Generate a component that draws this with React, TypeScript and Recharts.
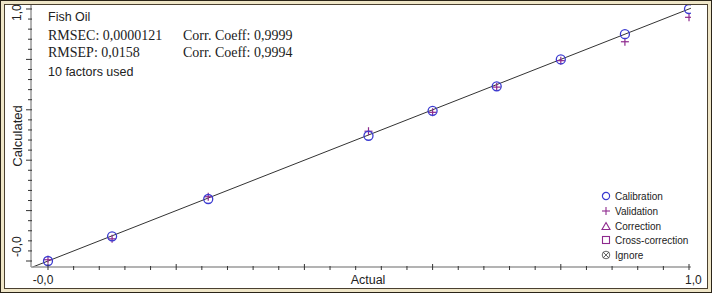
import React from 'react';
import { ScatterChart, Scatter, XAxis, YAxis, ReferenceLine } from 'recharts';

const actualCal = [0, 0.1, 0.25, 0.5, 0.6, 0.7, 0.8, 0.9, 1.0];
const calculatedCal = [0, 0.098, 0.246, 0.497, 0.596, 0.693, 0.8, 0.9, 1.0];
const actualVal = [0, 0.1, 0.25, 0.5, 0.6, 0.7, 0.8, 0.9, 1.0];
const calculatedVal = [0.005, 0.088, 0.255, 0.515, 0.59, 0.69, 0.795, 0.87, 0.967];

const axisTicks = [
  0, 0.04, 0.08, 0.12, 0.16, 0.2, 0.24, 0.28, 0.32, 0.36, 0.4, 0.44, 0.48,
  0.52, 0.56, 0.6, 0.64, 0.68, 0.72, 0.76, 0.8, 0.84, 0.88, 0.92, 0.96, 1.0,
];
const tickLabels: Record<string, string> = { '0': '-0,0', '1': '1,0' };

const infoLines = [
  { left: 'Fish Oil', right: '', serif: false },
  { left: 'RMSEC: 0,0000121', right: 'Corr. Coeff: 0,9999', serif: true },
  { left: 'RMSEP: 0,0158', right: 'Corr. Coeff: 0,9994', serif: true },
  { left: '10 factors used', right: '', serif: false },
];
const legendItems = ['Calibration', 'Validation', 'Correction', 'Cross-correction', 'Ignore'];

const calData = actualCal.map((x, i) => ({ x, y: calculatedCal[i] }));
const valData = actualVal.map((x, i) => ({ x, y: calculatedVal[i] }));

const BLUE = '#3b3bd0';
const PURPLE = '#8e2a8e';
const SANS = '"Liberation Sans", Arial, sans-serif';
const SERIF = '"Liberation Serif", "Times New Roman", serif';

const isMajor = (v: number) => Math.abs(v * 5 - Math.round(v * 5)) < 1e-6;

const XTick = (props: any) => {
  const { x, y, payload } = props;
  const v = payload.value;
  const major = isMajor(v);
  const label = tickLabels[String(v)];
  return (
    <g>
      <line x1={x} x2={x} y1={y - (major ? 3 : 1)} y2={y + 3} stroke="#333" />
      {label && (
        <text
          x={v === 0 ? x - 5 : x - 4}
          y={y + 13}
          textAnchor={v === 0 ? 'middle' : 'start'}
          dominantBaseline="central"
          fontFamily={SANS}
          fontSize={12}
          fill="#222"
        >
          {label}
        </text>
      )}
    </g>
  );
};

const YTick = (props: any) => {
  const { x, y, payload } = props;
  const v = payload.value;
  const major = isMajor(v);
  const label = tickLabels[String(v)];
  const ty = v === 0 ? y - 4 : y + 12;
  return (
    <g>
      <line x1={x - (major ? 5 : 3)} x2={x + 1} y1={y} y2={y} stroke="#333" />
      {label && (
        <text
          x={13}
          y={ty}
          transform={`rotate(-90 13 ${ty})`}
          textAnchor="start"
          dominantBaseline="central"
          fontFamily={SANS}
          fontSize={12}
          fill="#222"
        >
          {label}
        </text>
      )}
    </g>
  );
};

const CircleMark = (p: any) => (
  <circle cx={p.cx} cy={p.cy} r={4.5} fill="none" stroke={BLUE} strokeWidth={1.3} />
);
const PlusMark = (p: any) => (
  <g stroke={PURPLE} strokeWidth={1.2}>
    <line x1={p.cx - 4} x2={p.cx + 4} y1={p.cy} y2={p.cy} />
    <line x1={p.cx} x2={p.cx} y1={p.cy - 4} y2={p.cy + 4} />
  </g>
);

const LegendIcon = ({ idx }: { idx: number }) => {
  const c = 5;
  return (
    <svg width={10} height={10} style={{ display: 'block' }}>
      {idx === 0 && <circle cx={c} cy={c} r={3.6} fill="none" stroke={BLUE} strokeWidth={1.2} />}
      {idx === 1 && (
        <g stroke={PURPLE} strokeWidth={1.1}>
          <line x1={1} x2={9} y1={c} y2={c} />
          <line x1={c} x2={c} y1={1} y2={9} />
        </g>
      )}
      {idx === 2 && <polygon points="5,1.5 9,8.5 1,8.5" fill="none" stroke={PURPLE} strokeWidth={1.1} />}
      {idx === 3 && <rect x={1.5} y={1.5} width={7} height={7} fill="none" stroke={PURPLE} strokeWidth={1.1} />}
      {idx === 4 && (
        <g stroke="#555" strokeWidth={0.9} fill="none">
          <circle cx={c} cy={c} r={3.8} />
          <line x1={2} x2={8} y1={2} y2={8} />
          <line x1={8} x2={2} y1={2} y2={8} />
        </g>
      )}
    </svg>
  );
};

export default function App() {
  return (
    <div
      style={{
        position: 'absolute',
        left: 0,
        top: 0,
        width: 712,
        height: 293,
        boxSizing: 'border-box',
        border: '1px solid #2a2418',
        background: '#efe6c8',
        padding: 3,
      }}
    >
      <div
        style={{
          position: 'relative',
          width: 704,
          height: 285,
          boxSizing: 'border-box',
          border: '1px solid #4a4030',
          background: '#fff',
          overflow: 'hidden',
        }}
      >
        <div style={{ position: 'absolute', left: -1, top: -1 }}>
          <ScatterChart width={702} height={283} margin={{ top: 0, right: 15, bottom: 0, left: 0 }}>
            <XAxis
              type="number"
              dataKey="x"
              domain={[-0.0265, 1.0031]}
              ticks={axisTicks}
              interval={0}
              height={20}
              tickSize={0}
              tickMargin={0}
              tickLine={false}
              axisLine={{ stroke: '#9a9a9a', strokeWidth: 1.5 }}
              tick={<XTick />}
              allowDataOverflow
            />
            <YAxis
              type="number"
              dataKey="y"
              domain={[-0.0238, 1.0198]}
              ticks={axisTicks}
              interval={0}
              width={27}
              tickSize={0}
              tickMargin={0}
              tickLine={false}
              axisLine={{ stroke: '#9a9a9a', strokeWidth: 1.5 }}
              tick={<YTick />}
              allowDataOverflow
            />
            <ReferenceLine
              segment={[
                { x: -0.024, y: -0.024 },
                { x: 1.003, y: 1.003 },
              ]}
              stroke="#333"
              strokeWidth={1}
              ifOverflow="visible"
            />
            <Scatter name="Validation" data={valData} shape={<PlusMark />} isAnimationActive={false} />
            <Scatter name="Calibration" data={calData} shape={<CircleMark />} isAnimationActive={false} />
            <text x={364} y={276} textAnchor="middle" dominantBaseline="central" fontFamily={SANS} fontSize={12.5} fill="#222">
              Actual
            </text>
            <text
              x={13}
              y={132}
              transform="rotate(-90 13 132)"
              textAnchor="middle"
              dominantBaseline="central"
              fontFamily={SANS}
              fontSize={13}
              fill="#222"
            >
              Calculated
            </text>
          </ScatterChart>
        </div>
        {infoLines.map((l, i) => (
          <div
            key={i}
            style={{
              position: 'absolute',
              left: 43,
              top: [12, 31, 48, 67][i] - 9,
              height: 18,
              lineHeight: '18px',
              fontFamily: l.serif ? SERIF : SANS,
              fontSize: l.serif ? 14 : 12.5,
              color: '#222',
              whiteSpace: 'nowrap',
            }}
          >
            {l.left}
            {l.right && (
              <span style={{ position: 'absolute', left: 135, top: 0 }}>{l.right}</span>
            )}
          </div>
        ))}
        {legendItems.map((name, i) => (
          <div
            key={name}
            style={{
              position: 'absolute',
              left: 596,
              top: [191, 206, 221, 235, 250][i] - 7,
              height: 14,
              display: 'flex',
              alignItems: 'center',
              fontFamily: SANS,
              fontSize: 10,
              color: '#222',
              whiteSpace: 'nowrap',
            }}
          >
            <LegendIcon idx={i} />
            <span style={{ marginLeft: 4 }}>{name}</span>
          </div>
        ))}
      </div>
    </div>
  );
}
